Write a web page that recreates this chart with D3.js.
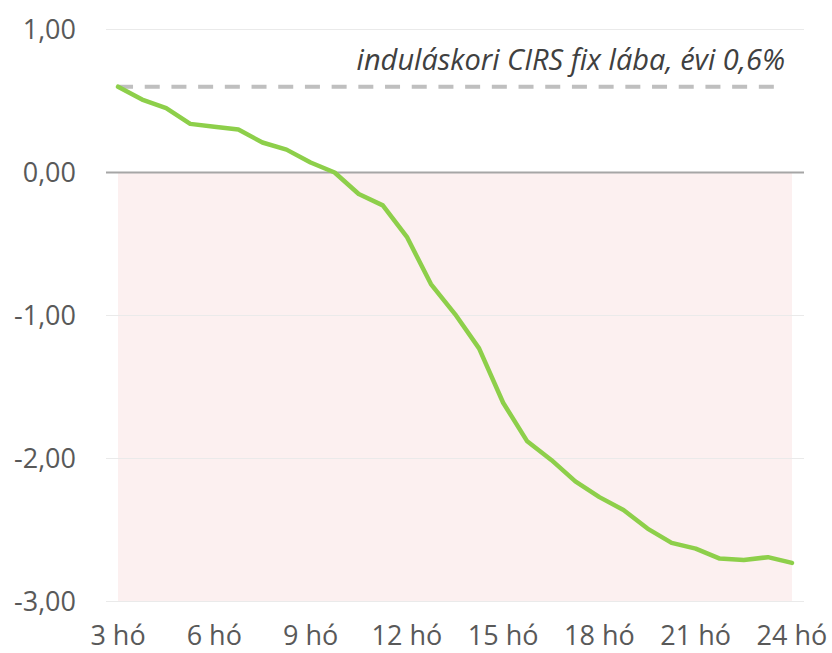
<!DOCTYPE html>
<html>
<head>
<meta charset="utf-8">
<script src="https://cdn.jsdelivr.net/npm/d3@7"></script>
<style>
  body { margin: 0; background: #fff; }
  svg text { font-family: "Open Sans", sans-serif; }
</style>
</head>
<body>
<svg id="chart" width="832" height="653"></svg>
<script>
// categories: one point every 0.75 months, labelled every 4th
var months = [3, 3.75, 4.5, 5.25, 6, 6.75, 7.5, 8.25, 9, 9.75, 10.5, 11.25, 12, 12.75,
  13.5, 14.25, 15, 15.75, 16.5, 17.25, 18, 18.75, 19.5, 20.25, 21, 21.75, 22.5, 23.25, 24];
var values = [0.60, 0.51, 0.45, 0.34, 0.32, 0.30, 0.21, 0.16, 0.07, 0.00,
  -0.15, -0.23, -0.45, -0.78, -0.99, -1.23, -1.61, -1.88, -2.01, -2.16,
  -2.27, -2.36, -2.49, -2.59, -2.63, -2.70, -2.71, -2.69, -2.73];
var tickMonths = [3, 6, 9, 12, 15, 18, 21, 24];
var yTicks = [1, 0, -1, -2, -3];
var fixLeg = 0.6;
var fixLabel = "induláskori CIRS fix lába, évi 0,6%";

var svg = d3.select("#chart");
var plotLeft = 106, plotRight = 804, plotTop = 29.5, plotBottom = 601.5;

var x = d3.scalePoint().domain(months).range([plotLeft, plotRight]).padding(0.5);
var y = d3.scaleLinear().domain([-3, 1]).range([plotBottom, plotTop]);
var fmt = function(v) { return d3.format(".2f")(v).replace(".", ",").replace("−", "-"); };

// pink shaded negative zone
svg.append("rect")
  .attr("x", x(months[0]))
  .attr("y", y(0))
  .attr("width", x(months[months.length - 1]) - x(months[0]))
  .attr("height", y(-3) - y(0))
  .attr("fill", "#fcf0f0");

// gridlines
svg.append("g").selectAll("line")
  .data(yTicks.filter(function(d) { return d != 0; }))
  .enter().append("line")
  .attr("x1", plotLeft).attr("x2", plotRight)
  .attr("y1", function(d) { return y(d); })
  .attr("y2", function(d) { return y(d); })
  .attr("stroke", "#eaeaea")
  .attr("stroke-width", 1);

// zero line
svg.append("line")
  .attr("x1", plotLeft).attr("x2", plotRight)
  .attr("y1", y(0)).attr("y2", y(0))
  .attr("stroke", "#a6a6a6")
  .attr("stroke-width", 2);

// y labels
svg.append("g").selectAll("text")
  .data(yTicks)
  .enter().append("text")
  .attr("x", 76)
  .attr("y", function(d) { return y(d); })
  .attr("dy", "0.35em")
  .attr("text-anchor", "end")
  .attr("font-size", 27)
  .attr("fill", "#595959")
  .text(fmt);

// x labels
svg.append("g").selectAll("text")
  .data(tickMonths)
  .enter().append("text")
  .attr("x", function(d) { return x(d); })
  .attr("y", 645)
  .attr("text-anchor", "middle")
  .attr("font-size", 27)
  .attr("fill", "#595959")
  .text(function(d) { return d + " hó"; });

// initial fixed leg reference
svg.append("line")
  .attr("x1", x(months[0]))
  .attr("x2", x(months[months.length - 1]) - 14)
  .attr("y1", y(fixLeg)).attr("y2", y(fixLeg))
  .attr("stroke", "#bfbfbf")
  .attr("stroke-width", 4)
  .attr("stroke-dasharray", "15,11.7");

svg.append("text")
  .attr("x", 785)
  .attr("y", 70)
  .attr("text-anchor", "end")
  .attr("font-size", 29)
  .attr("font-style", "italic")
  .attr("fill", "#404040")
  .text(fixLabel);

// the curve
var line = d3.line()
  .x(function(d, i) { return x(months[i]); })
  .y(function(d) { return y(d); });

svg.append("path")
  .datum(values)
  .attr("d", line)
  .attr("fill", "none")
  .attr("stroke", "#8dcf4a")
  .attr("stroke-width", 4.5)
  .attr("stroke-linejoin", "round")
  .attr("stroke-linecap", "round");
</script>
</body>
</html>
